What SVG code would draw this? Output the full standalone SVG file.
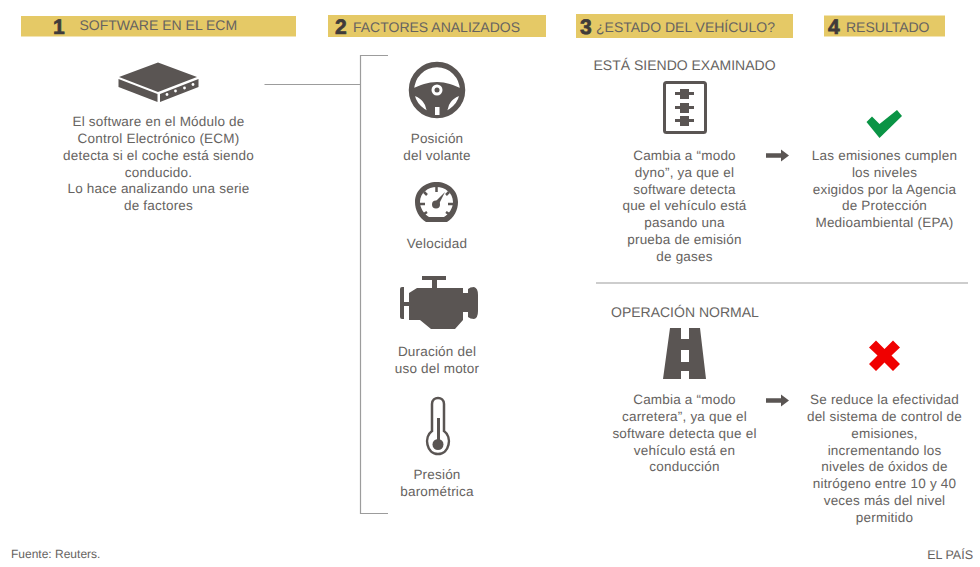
<svg xmlns="http://www.w3.org/2000/svg" width="980" height="567" viewBox="0 0 980 567">
<style>
text{font-family:"Liberation Sans",Arial,sans-serif;fill:#666361;text-rendering:geometricPrecision}
.b{font-size:13.500px;letter-spacing:.2px;text-anchor:middle}
.h{font-size:14px}
.n{font-size:21px;font-weight:bold;fill:#3f3b3a;stroke:#3f3b3a;stroke-width:.7}
.hb{fill:#e5c966}
.ic{fill:#5a5553}
.ln{stroke:#9c9c9c;stroke-width:1.2;fill:none}
.s{font-size:12px}
</style>
<defs>
<g id="arrow"><path class="ic" d="M0 -2.200H15V-6L23 0L15 6V2.200H0Z"/></g>
</defs>
<g id="connectors">
<path class="ln" d="M264.500 84.500H360"/>
<path class="ln" d="M388 55.500H360.500V513.500H388"/>
<path class="ln" d="M596 283H968"/>
<use href="#arrow" x="766" y="155.500"/>
<use href="#arrow" x="766" y="400.500"/>
</g>
<g id="header1"><rect class="hb" x="21" y="16" width="275" height="20.500"/><text class="n" x="53" y="33.500">1</text><text class="h" x="79.500" y="30">SOFTWARE EN EL ECM</text></g>
<g id="header2"><rect class="hb" x="328" y="15" width="218" height="22"/><text class="n" x="335" y="34">2</text><text class="h" x="353" y="32">FACTORES ANALIZADOS</text></g>
<g id="header3"><rect class="hb" x="576" y="14" width="217" height="24"/><text class="n" x="580" y="33.500">3</text><text class="h" x="596" y="32">¿ESTADO DEL VEHÍCULO?</text></g>
<g id="header4"><rect class="hb" x="824" y="15.500" width="121" height="21"/><text class="n" x="828" y="33.500">4</text><text class="h" x="846" y="32">RESULTADO</text></g>
<g id="ecm">
<path class="ic" d="M158 62.500L197 77L158 92L119 77Z"/>
<path class="ic" d="M118.500 79L157.500 94V102L118.500 87Z"/>
<path class="ic" d="M160 94L198.500 79V87L160 102Z"/>
<g fill="#fff"><circle cx="167" cy="94.500" r="1.400"/><circle cx="175.500" cy="91" r="1.400"/><circle cx="184.500" cy="88" r="1.400"/><circle cx="193" cy="84.500" r="1.400"/></g>
<text class="b" x="158.500" y="126">El software en el Módulo de</text>
<text class="b" x="158.500" y="143">Control Electrónico (ECM)</text>
<text class="b" x="158.500" y="160">detecta si el coche está siendo</text>
<text class="b" x="158.500" y="177">conducido.</text>
<text class="b" x="158.500" y="193">Lo hace analizando una serie</text>
<text class="b" x="158.500" y="210">de factores</text>
</g>
<g id="volante">
<circle cx="437" cy="90" r="25.500" fill="none" stroke="#5a5553" stroke-width="5.500"/>
<path class="ic" d="M412 89C420 85 428 82 437 82C446 82 454 85 462 89L463 95C457 96 452 99 449 105L446 115H428L425 105C422 99 417 96 411 95Z"/>
<circle cx="437" cy="90" r="5.500" fill="#fff"/><circle cx="437" cy="90" r="2.500" class="ic"/>
<rect x="435" y="107" width="4.500" height="8" fill="#fff"/>
<text class="b" x="437" y="143">Posición</text><text class="b" x="437" y="160">del volante</text>
</g>
<g id="velocidad">
<path class="ic" fill-rule="evenodd" d="M426 222C419 218 415 210 415 202C415 190 425 182 436.500 182C448 182 458 190 458 202C458 210 454 218 447 222ZM429 217H444C449 214 453 208 453 202C453 193 445 187 436.500 187C428 187 420 193 420 202C420 208 424 214 429 217Z"/>
<path d="M436.500 187V192M424 192L427 195M449 192L446 195M420 204H425M453 204H448M424 214L427 212M449 214L446 212" stroke="#5a5553" stroke-width="2.500" fill="none"/>
<circle cx="436" cy="204.500" r="4" class="ic"/><path d="M434 203L445 192L438 206Z" class="ic"/>
<text class="b" x="437" y="248">Velocidad</text>
</g>
<g id="motor">
<path class="ic" d="M422 276H446V280H437V288H463V293H468V289Q470 287 474 287Q478 288 478 295V311Q478 318 474 319Q470 319 468 317V312H463V320L455 329H431L420 320H409V306H404V319H402Q400 319 400 317V289Q400 287 402 287H404V302H409V293L417 288H432V280H422Z"/>
<text class="b" x="437" y="356">Duración del</text><text class="b" x="437" y="373">uso del motor</text>
</g>
<g id="termometro">
<path d="M432 431V404C432 396 444 396 444 404V431C452.500 437 449.500 454 438 454C426.500 454 423.500 437 432 431Z" fill="#fff" stroke="#5a5553" stroke-width="2.500"/>
<circle cx="438" cy="444.500" r="5.500" class="ic"/><rect x="437" y="418" width="3" height="24" class="ic"/>
<text class="b" x="437" y="479">Presión</text><text class="b" x="437" y="496">barométrica</text>
</g>
<g id="examinado">
<text class="h" x="593.500" y="70">ESTÁ SIENDO EXAMINADO</text>
<rect x="664.500" y="82.500" width="41" height="50" rx="2" fill="#fff" stroke="#5a5553" stroke-width="3"/>
<path class="ic" d="M680 89H689V92H694V95H689V99H680V95H675V92H680ZM680 103H689V106H694V109H689V113H680V109H675V106H680ZM680 116H689V119H694V122H689V126H680V122H675V119H680Z"/>
<text class="b" x="684.500" y="160">Cambia a “modo</text>
<text class="b" x="684.500" y="177">dyno”, ya que el</text>
<text class="b" x="684.500" y="194">software detecta</text>
<text class="b" x="684.500" y="210">que el vehículo está</text>
<text class="b" x="684.500" y="227">pasando una</text>
<text class="b" x="684.500" y="244">prueba de emisión</text>
<text class="b" x="684.500" y="261">de gases</text>
</g>
<g id="cumple">
<path fill="#0a9445" d="M866.500 122L872 116.500L879.500 124L897 110L902 116L879.500 138Z"/>
<text class="b" x="884.500" y="160">Las emisiones cumplen</text>
<text class="b" x="884.500" y="177">los niveles</text>
<text class="b" x="884.500" y="194">exigidos por la Agencia</text>
<text class="b" x="884.500" y="210">de Protección</text>
<text class="b" x="884.500" y="227">Medioambiental (EPA)</text>
</g>
<g id="normal">
<text class="h" x="611" y="317">OPERACIÓN NORMAL</text>
<path class="ic" fill-rule="evenodd" d="M670 328H681V339H689V328H700L706 379H689V371H681V379H663ZM681 350V362H689V350Z"/>
<text class="b" x="684.500" y="404">Cambia a “modo</text>
<text class="b" x="684.500" y="421">carretera”, ya que el</text>
<text class="b" x="684.500" y="438">software detecta que el</text>
<text class="b" x="684.500" y="455">vehículo está en</text>
<text class="b" x="684.500" y="471">conducción</text>
</g>
<g id="reduce">
<path fill="#f00000" d="M876 340.500L884.500 349L893 340.500L900 347.500L891.500 355.500L900 364L893 371L884.500 362.500L876 371L869 364L877.500 355.500L869 347.500Z"/>
<text class="b" x="884.500" y="404">Se reduce la efectividad</text>
<text class="b" x="884.500" y="421">del sistema de control de</text>
<text class="b" x="884.500" y="438">emisiones,</text>
<text class="b" x="884.500" y="455">incrementando los</text>
<text class="b" x="884.500" y="471">niveles de óxidos de</text>
<text class="b" x="884.500" y="488">nitrógeno entre 10 y 40</text>
<text class="b" x="884.500" y="505">veces más del nivel</text>
<text class="b" x="884.500" y="522">permitido</text>
</g>
<text class="s" x="11" y="558">Fuente: Reuters.</text>
<text class="s" x="973" y="559" text-anchor="end" style="font-size:12.500px">EL PAÍS</text>
</svg>
